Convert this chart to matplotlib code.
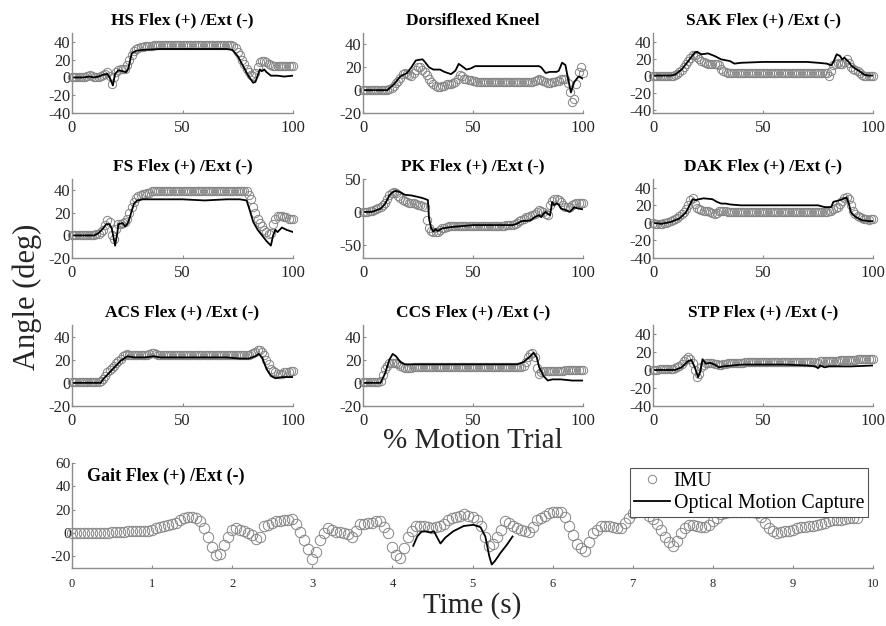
import numpy as np
import matplotlib.pyplot as plt

plt.rcParams['font.family'] = 'Liberation Serif'
plt.rcParams['axes.unicode_minus'] = False

# percent of motion trial, IMU sampled every 1 %
pct = np.arange(0, 101)

titles = ['HS Flex (+) /Ext (-)', 'Dorsiflexed Kneel', 'SAK Flex (+) /Ext (-)',
          'FS Flex (+) /Ext (-)', 'PK Flex (+) /Ext (-)', 'DAK Flex (+) /Ext (-)',
          'ACS Flex (+) /Ext (-)', 'CCS Flex (+) /Ext (-)', 'STP Flex (+) /Ext (-)']

ylims = [(-40, 50), (-20, 50), (-44, 50),
         (-20, 50), (-70, 50), (-40, 50),
         (-20, 50), (-20, 50), (-40, 50)]
yticks = [[-40, -20, 0, 20, 40], [-20, 0, 20, 40], [-40, -20, 0, 20, 40],
          [-20, 0, 20, 40], [-50, 0, 50], [-40, -20, 0, 20, 40],
          [-20, 0, 20, 40], [-20, 0, 20, 40], [-40, -20, 0, 20, 40]]

hs_imu = [1, 1, 1, 0, 0, 0, 1, 2, 3, 2,
          1, 1, 1, 2, 3, 4, 6, 2, -7, 0,
          6, 8, 9, 9, 10, 14, 20, 25, 30, 32,
          33, 34, 34, 35, 35, 35, 35, 36, 36, 36,
          36, 36, 36, 36, 36, 36, 36, 36, 36, 36,
          36, 36, 36, 36, 36, 36, 36, 36, 36, 36,
          36, 36, 36, 36, 36, 36, 36, 36, 36, 36,
          37, 37, 37, 35, 33, 29, 25, 20, 15, 10,
          6, 3, 2, 5, 12, 17, 19, 19, 17, 15,
          14, 13, 13, 13, 13, 13, 13, 13, 13, 13,
          13]
hs_opt_x = [0, 5, 8, 10, 12, 14, 16, 17, 18.5, 19.5, 21, 23, 24.5, 25.5, 27, 29, 32, 40,
            50, 60, 70, 72.5, 75, 78, 80, 82, 83, 84, 85, 86, 87, 88, 90, 93, 96, 100]
hs_opt_y = [0, 0, 1, 0, 1, 3, 4, 0, -9, 4, 8, 7, 6, 10, 27, 30, 31, 32,
            32, 32, 32, 31, 24, 10, 1, -6, -5, 2, 9, 7, 9, 6, 2, 2, 1, 2]

dk_imu = [0, 0, 0, 0, 0, 0, 0, 0, 0, 0,
          0, 0, 1, 2, 4, 6, 8, 11, 14, 15,
          14, 13, 12, 15, 18, 20, 20, 18, 16, 13,
          10, 7, 5, 4, 3, 3, 4, 4, 5, 5,
          5, 6, 7, 10, 13, 12, 10, 10, 9, 9,
          8, 8, 7, 7, 7, 7, 7, 7, 7, 7,
          7, 7, 7, 7, 7, 7, 7, 7, 7, 7,
          7, 7, 7, 7, 7, 7, 7, 7, 8, 9,
          10, 9, 8, 7, 6, 6, 7, 7, 8, 8,
          10, 10, 10, 6, -2, -10, -8, 5, 16, 20,
          15]
dk_opt_x = [0, 11, 14, 17, 20, 22, 24, 27, 28, 30, 32, 35, 37, 40, 42, 43.5, 45, 47, 49, 51,
            60, 70, 80, 81, 83, 85, 88, 89, 90.5, 92, 93, 94.5, 96, 98, 100]
dk_opt_y = [0, 0, 5, 12, 15, 20, 26, 27, 25, 20, 18, 18, 16, 14, 17, 23, 21, 18, 19, 21,
            21, 21, 21, 20, 15, 16, 16, 17, 24, 22, 12, -2, 7, 12, 10]

sak_imu = [0, 0, 0, 0, 0, 0, 0, 0, 0, 0,
           1, 2, 4, 7, 10, 13, 17, 21, 24, 24,
           22, 19, 17, 16, 15, 14, 14, 14, 14, 13,
           12, 8, 5, 4, 3, 3, 3, 3, 3, 3,
           3, 3, 3, 3, 3, 3, 3, 3, 3, 3,
           3, 3, 3, 3, 3, 3, 3, 3, 3, 3,
           3, 3, 3, 3, 3, 3, 3, 3, 3, 3,
           3, 3, 3, 3, 3, 3, 3, 3, 3, 3,
           0, 5, 12, 14, 15, 14, 13, 16, 20, 15,
           10, 8, 7, 5, 3, 1, 0, -1, -1, 0,
           0]
sak_opt_x = [0, 8, 10, 13, 16, 19, 20, 22, 25, 28, 31, 35, 37, 40, 50, 60, 70, 75, 79, 81,
             82, 83.5, 85, 86, 87, 88, 89, 90, 92, 94, 96, 98, 100]
sak_opt_y = [0, 0, 1, 7, 17, 27, 28, 25, 26, 23, 19, 17, 14, 15, 16, 16, 16, 15, 14, 12,
             16, 25, 23, 19, 21, 18, 16, 12, 8, 5, 1, 0, 0]

fs_imu = [0, 0, 0, 0, 0, 0, 0, 0, 0, 0,
          0, 1, 1, 3, 5, 9, 14, 12, 0, -3,
          6, 10, 10, 11, 12, 15, 20, 25, 30, 33,
          35, 36, 37, 37, 38, 38, 39, 39, 39, 39,
          39, 39, 39, 39, 39, 39, 39, 39, 39, 39,
          39, 39, 39, 39, 39, 39, 39, 39, 39, 39,
          39, 39, 39, 39, 39, 39, 39, 39, 39, 39,
          39, 39, 39, 39, 39, 39, 39, 39, 39, 39,
          36, 32, 25, 20, 15, 11, 8, 5, 3, 1,
          2, 10, 15, 17, 17, 17, 16, 16, 15, 15,
          15]
fs_opt_x = [0, 10, 12, 14, 15.5, 17, 18, 19.5, 20.5, 21, 23, 24, 25, 26, 28, 29.5, 32, 40,
            50, 60, 70, 76, 79, 80, 82, 84, 86, 88, 90, 91, 92, 93, 95, 97, 100]
fs_opt_y = [0, 0, 2, 6, 10, 10, 6, -9, 2, 10, 11, 8, 10, 15, 28, 31, 32, 32,
            32, 31, 32, 32, 31, 25, 12, 5, 0, -5, -9, 0, 5, 3, 7, 5, 3]

pk_imu = [0, 0, 0, 1, 2, 3, 4, 6, 8, 11,
          14, 20, 26, 29, 30, 28, 24, 21, 18, 16,
          15, 14, 14, 13, 12, 11, 10, 9, 8, -13,
          -25, -29, -30, -31, -30, -27, -25, -24, -23, -22,
          -21, -21, -21, -21, -21, -21, -21, -21, -21, -21,
          -21, -21, -21, -21, -21, -21, -21, -21, -21, -21,
          -21, -21, -21, -21, -21, -20, -20, -20, -20, -19,
          -17, -14, -12, -10, -8, -7, -6, -5, -3, 0,
          3, 1, 0, -3, -5, 10, 16, 19, 20, 18,
          15, 11, 8, 7, 7, 10, 12, 14, 14, 13,
          13]
pk_opt_x = [0, 4, 8, 10, 12, 13.5, 15, 17, 19, 22, 26, 28, 29.5, 30, 31, 32, 33, 34, 36, 40,
            50, 60, 68, 70, 72, 76, 78, 80, 81, 82, 83, 84, 85, 86, 87, 88, 89, 90, 92, 94,
            96, 98, 100]
pk_opt_y = [0, 0, 5, 12, 25, 30, 32, 30, 26, 25, 22, 20, 18, -10, -25, -30, -26, -29, -25, -23,
            -20, -20, -20, -18, -14, -13, -8, -5, -8, -3, 0, -3, -5, 15, 10, 13, 11, 5, 3, 0,
            7, 5, 4]

dak_imu = [0, -1, -1, -1, -1, 0, 0, 1, 2, 3,
           5, 6, 8, 10, 12, 16, 20, 26, 28, 22,
           17, 16, 15, 14, 14, 13, 12, 11, 10, 11,
           13, 14, 14, 13, 12, 12, 12, 12, 12, 12,
           12, 12, 12, 12, 12, 12, 12, 12, 12, 12,
           12, 12, 12, 12, 12, 12, 12, 12, 12, 12,
           12, 12, 12, 12, 12, 12, 12, 12, 12, 12,
           12, 12, 12, 12, 12, 12, 12, 12, 12, 12,
           13, 14, 16, 17, 18, 21, 25, 28, 30, 27,
           20, 14, 10, 8, 7, 6, 5, 4, 3, 4,
           4]
dak_opt_x = [0, 4, 8, 12, 15, 17, 18, 19.5, 21, 23, 27, 29, 31, 33, 35, 40, 60, 75, 78, 81,
             82, 85, 87, 88, 89, 90, 92, 95, 98, 100]
dak_opt_y = [0, -1, 1, 5, 12, 22, 27, 26, 27, 28, 27, 24, 22, 22, 21, 20, 20, 20, 18, 18,
             24, 26, 28, 29, 22, 12, 7, 3, 2, 2]

acs_imu = [1, 1, 1, 1, 1, 1, 1, 1, 1, 1,
           1, 1, 1, 2, 3, 6, 9, 11, 13, 15,
           17, 19, 21, 23, 24, 25, 24, 24, 24, 24,
           24, 24, 24, 24, 24, 25, 26, 26, 25, 24,
           24, 24, 24, 24, 24, 24, 24, 24, 24, 24,
           24, 24, 24, 24, 24, 24, 24, 24, 24, 24,
           24, 24, 24, 24, 24, 24, 24, 24, 24, 24,
           24, 24, 24, 24, 24, 24, 24, 24, 24, 24,
           24, 25, 26, 27, 28, 28, 27, 24, 20, 16,
           12, 10, 9, 8, 8, 8, 9, 9, 9, 10,
           10]
acs_opt_x = [0, 13, 14, 18, 22, 25, 28, 33, 37, 40, 50, 60, 70, 76, 80, 83, 84.5, 86, 88, 90,
             92, 95, 100]
acs_opt_y = [0, 0, 3, 11, 19, 23, 22, 22, 23, 22, 22, 22, 22, 21, 21, 23, 25, 22, 12, 6,
             4, 5, 5]

ccs_imu = [1, 1, 1, 1, 1, 1, 1, 1, 2, 7,
           12, 15, 17, 17, 17, 17, 16, 15, 14, 13,
           13, 13, 13, 14, 14, 14, 14, 14, 14, 14,
           14, 14, 14, 14, 14, 14, 14, 14, 14, 14,
           14, 14, 14, 14, 14, 14, 14, 14, 14, 14,
           14, 14, 14, 14, 14, 14, 14, 14, 14, 14,
           14, 14, 14, 14, 14, 14, 14, 14, 14, 14,
           14, 14, 14, 15, 18, 22, 25, 26, 22, 13,
           8, 9, 10, 10, 10, 10, 10, 10, 10, 10,
           10, 10, 11, 11, 11, 11, 11, 11, 11, 11,
           11]
ccs_opt_x = [0, 8, 10, 12, 13.5, 15, 17, 19, 25, 40, 60, 70, 73, 76, 77.5, 79, 80, 82, 84,
             86, 90, 95, 100]
ccs_opt_y = [0, 0, 8, 20, 25, 23, 18, 16, 16, 16, 16, 16, 18, 23, 26, 22, 14, 6, 2,
             3, 3, 2, 2]

stp_imu = [0, 0, 0, 1, 1, 1, 1, 1, 1, 1,
           2, 3, 5, 7, 10, 12, 14, 12, 8, 0,
           -8, -4, 3, 6, 8, 8, 8, 8, 7, 7,
           6, 6, 7, 7, 8, 8, 8, 8, 8, 8,
           8, 8, 9, 9, 9, 9, 9, 9, 9, 9,
           9, 9, 9, 9, 9, 9, 9, 9, 9, 9,
           9, 9, 9, 9, 9, 9, 9, 9, 9, 9,
           9, 9, 9, 9, 8, 8, 10, 10, 10, 10,
           10, 10, 10, 10, 10, 11, 11, 11, 11, 11,
           11, 11, 11, 12, 12, 12, 12, 12, 12, 12,
           12]
stp_opt_x = [0, 10, 13, 16, 17.5, 19, 20.5, 21.5, 22.5, 24, 26, 28, 30, 32, 40, 60, 70, 74,
             75, 76, 78, 80, 90, 100]
stp_opt_y = [0, 0, 3, 10, 11, 3, -8, -2, 12, 7, 8, 6, 3, 4, 6, 6, 5, 4,
             2, 5, 3, 4, 4, 5]

imu_sets = [hs_imu, dk_imu, sak_imu, fs_imu, pk_imu, dak_imu, acs_imu, ccs_imu, stp_imu]
opt_sets = [(hs_opt_x, hs_opt_y), (dk_opt_x, dk_opt_y), (sak_opt_x, sak_opt_y),
            (fs_opt_x, fs_opt_y), (pk_opt_x, pk_opt_y), (dak_opt_x, dak_opt_y),
            (acs_opt_x, acs_opt_y), (ccs_opt_x, ccs_opt_y), (stp_opt_x, stp_opt_y)]

# gait trial, IMU every 0.05 s
gait_t = np.arange(197) * 0.05
gait_imu = [0, 0, 0, 0, 0, 0, 0, 0, 0, 0,
            1, 1, 1, 1, 2, 2, 2, 2, 2, 2,
            3, 4, 5, 6, 7, 8, 9, 11, 13, 14,
            14, 13, 10, 4, -3, -12, -19, -18, -10, -3,
            3, 4, 3, 2, 0, -2, -5, -3, 6, 7,
            9, 10, 10, 11, 11, 12, 8, 1, -6, -14,
            -22, -16, -6, 0, 4, 3, 1, 1, 0, -1,
            -3, 2, 8, 8, 9, 9, 10, 10, 5, 0,
            -12, -19, -21, -13, -3, 2, 6, 6, 6, 5,
            4, 5, 6, 8, 11, 13, 14, 15, 16, 15,
            14, 11, 6, -3, -11, -9, -3, 3, 10, 9,
            6, 4, 3, 2, 1, 5, 11, 13, 15, 17,
            18, 18, 18, 14, 6, -2, -9, -13, -15, -8,
            0, 3, 6, 6, 6, 5, 4, 4, 9, 13,
            17, 19, 20, 18, 15, 12, 8, 3, -3, -8,
            -11, -7, 0, 4, 7, 7, 6, 5, 5, 7,
            10, 13, 16, 17, 18, 18, 18, 18, 18, 18,
            18, 17, 14, 9, 4, 2, 0, 1, 2, 2,
            3, 4, 5, 5, 6, 6, 7, 8, 9, 10,
            11, 11, 11, 12, 13, 13, 13]
gait_opt_t = [4.26, 4.31, 4.36, 4.41, 4.48, 4.52, 4.56, 4.6, 4.66, 4.76, 4.89, 5.01, 5.1,
              5.16, 5.21, 5.24, 5.28, 5.35, 5.43, 5.5]
gait_opt_y = [-11, -3, 1, 1.5, 0.5, 1.5, -4, -9, -4, 1.5, 6, 7, 5,
              -3, -20, -27, -24, -17, -10, -3]

W, H = 886, 626
fig = plt.figure(figsize=(W / 100, H / 100), dpi=100)


def px_axes(l, t, r, b):
    return fig.add_axes([l / W, 1 - b / H, (r - l) / W, (b - t) / H])


def style(ax, fs):
    for s in ['top', 'right']:
        ax.spines[s].set_visible(False)
    for s in ['left', 'bottom']:
        ax.spines[s].set_color('#8c8c8c')
        ax.spines[s].set_linewidth(1)
    ax.tick_params(direction='in', length=2.5, width=0.8, color='#8c8c8c',
                   labelcolor='#262626', labelsize=fs, pad=1)
    ax.tick_params(axis='x', pad=5)


cols = [(72, 293), (363, 583), (653, 873)]
rows = [(33, 113), (179, 258), (325, 406)]

grey = '#858585'
for i in range(9):
    l, r = cols[i % 3]
    t, b = rows[i // 3]
    ax = px_axes(l, t, r, b)
    ax.plot(pct, imu_sets[i], 'o', mfc='none', mec=grey, ms=6, mew=0.7, clip_on=False)
    ax.plot(opt_sets[i][0], opt_sets[i][1], '-', color='black', lw=1.3)
    ax.set_xlim(0, 100)
    ax.set_ylim(*ylims[i])
    ax.set_xticks([0, 50, 100])
    ax.set_yticks(yticks[i])
    style(ax, 12)
    ax.set_title(titles[i], fontsize=12.5, fontweight='bold', pad=6)

axg = px_axes(72, 463, 873, 568)
h1, = axg.plot(gait_t, gait_imu, 'o', mfc='none', mec=grey, ms=7.5, mew=0.7, clip_on=False)
h2, = axg.plot(gait_opt_t, gait_opt_y, '-', color='black', lw=1.3)
axg.set_xlim(0, 10)
axg.set_ylim(-30, 60)
axg.set_xticks(np.arange(0, 11, 1))
axg.set_yticks([-20, 0, 20, 40, 60])
style(axg, 11)
axg.tick_params(axis='x', labelsize=9, pad=7)
axg.text(0.019, 0.83, 'Gait Flex (+) /Ext (-)', transform=axg.transAxes,
         fontsize=13, fontweight='bold')
leg = axg.legend([h1, h2], ['IMU', 'Optical Motion Capture'], loc='upper right',
                 fontsize=14.3, frameon=True, fancybox=False, framealpha=1,
                 edgecolor='#555555', borderpad=0.2, handlelength=1.8,
                 handletextpad=0.2, labelspacing=0.15, borderaxespad=0.25)
leg.get_frame().set_linewidth(0.8)
leg.legend_handles[0].set_markersize(6)

fig.text(27 / W, 1 - 297 / H, 'Angle (deg)', rotation=90, fontsize=22,
         ha='center', va='center', color='#262626')
fig.text(473 / W, 1 - 441 / H, '% Motion Trial', fontsize=21,
         ha='center', va='center', color='#262626')
fig.text(472 / W, 1 - 606 / H, 'Time (s)', fontsize=21,
         ha='center', va='center', color='#262626')

fig.savefig('out.png', dpi=100)
